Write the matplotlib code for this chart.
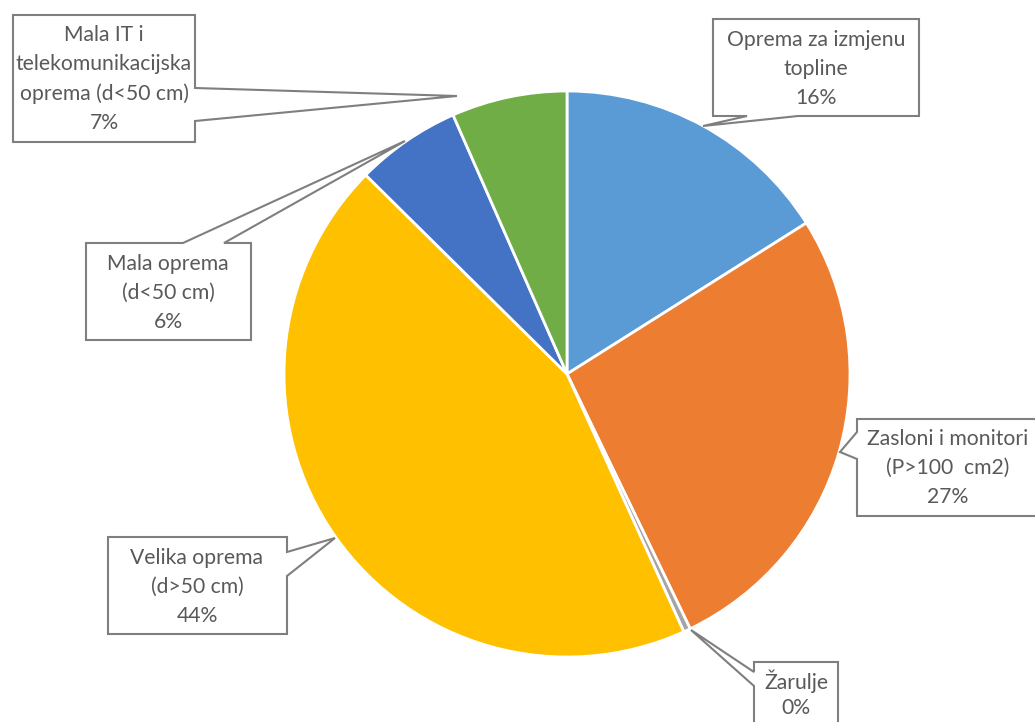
import matplotlib
matplotlib.use("Agg")
import matplotlib.pyplot as plt
from matplotlib.patches import Polygon

categories = ["Oprema za izmjenu\ntopline", "Zasloni i monitori\n(P>100  cm2)", "Žarulje",
              "Velika oprema\n(d>50 cm)", "Mala oprema\n(d<50 cm)", "Mala IT i\ntelekomunikacijska\noprema (d<50 cm)"]
values = [16.05, 26.8, 0.4, 44.2, 6.0, 6.6]
colors = ["#5B9BD5", "#ED7D31", "#A5A5A5", "#FFC000", "#4472C4", "#70AD47"]

W, H = 1035, 722
fig = plt.figure(figsize=(W / 100, H / 100), dpi=100)
ax = fig.add_axes([0, 0, 1, 1])
cx, cy, r = 567, H - 374, 283
ax.pie(values, colors=colors, startangle=90, counterclock=False, center=(cx, cy), radius=r,
       wedgeprops=dict(edgecolor="white", linewidth=2.0))
ax.set_xlim(0, W)
ax.set_ylim(0, H)
ax.set_aspect("auto")
ax.axis("off")

# callout layout: box (x0, y0, x1, y1) in pixels (y down), side, attach a, b, tip, text centre, spacing
callouts = [
    ((713, 19, 919, 116), "bottom", 747, 798, (703, 126), (816, 69), 1.55),
    ((857, 419, 1045, 516), "left", 432, 459, (840, 452), (948, 468), 1.55),
    ((754, 662, 838, 740), "left", 672, 686, (691, 630), (796, 694), 1.3),
    ((108, 537, 287, 634), "right", 552, 576, (335, 538), (197, 587), 1.55),
    ((86, 243, 251, 340), "top", 183, 224, (405, 141), (168, 293), 1.55),
    ((13, 15, 195, 142), "right", 88, 121, (457, 96), (104, 79), 1.55),
]

edge = "#7F7F7F"
txtc = "#595959"
for cat, v, (box, side, a, b, tip, tc, ls) in zip(categories, values, callouts):
    x0, y0, x1, y1 = box
    if side == "bottom":
        pts = [(x0, y0), (x1, y0), (x1, y1), (b, y1), tip, (a, y1), (x0, y1)]
    elif side == "top":
        pts = [(x0, y0), (a, y0), tip, (b, y0), (x1, y0), (x1, y1), (x0, y1)]
    elif side == "left":
        pts = [(x0, y0), (x1, y0), (x1, y1), (x0, y1), (x0, b), tip, (x0, a)]
    else:
        pts = [(x0, y0), (x1, y0), (x1, a), tip, (x1, b), (x1, y1), (x0, y1)]
    pts = [(px, H - py) for px, py in pts]
    ax.add_patch(Polygon(pts, closed=True, facecolor="white", edgecolor=edge, linewidth=1.5, zorder=5))
    label = f"{cat}\n{round(v)}%"
    ax.text(tc[0], H - tc[1], label, ha="center", va="center",
            fontsize=15.2, family="Lato", color=txtc, linespacing=ls, zorder=6)

fig.savefig("out.png", dpi=100)
